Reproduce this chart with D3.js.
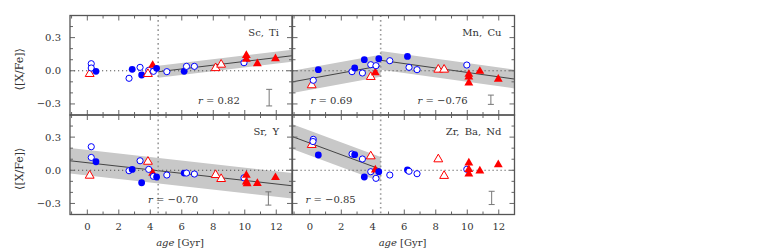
<!DOCTYPE html>
<html lang="en">
<head>
<meta charset="UTF-8">
<title>Abundance trends with age</title>
<style>
  body { margin: 0; background: #fff; }
  svg text { font-family: "DejaVu Serif", serif; font-size: 10px; fill: #333; }
  .frame { fill: none; stroke: #555; stroke-width: 1.3; }
  .tick { stroke: #666; stroke-width: 1; }
</style>
</head>
<body>
<svg id="chart" width="764" height="250"></svg>
<script src="https://d3js.org/d3.v7.min.js"></script>
<script>
// [age, <[X/Fe]>, kind]  kind: fc filled circle, oc open circle, ft filled triangle, ot open triangle
const scTi = [
  [0.15,-0.023,'ot'],[0.25,0.064,'oc'],[0.25,0.025,'oc'],[0.55,-0.005,'fc'],
  [2.65,-0.068,'oc'],[2.85,0.013,'fc'],[3.35,0.031,'oc'],[3.45,-0.038,'fc'],
  [3.9,0.004,'oc'],[3.85,-0.023,'ot'],[4.15,0.055,'ft'],[4.2,-0.005,'oc'],
  [4.4,0.022,'fc'],[5.05,-0.008,'oc'],[6.15,-0.005,'fc'],[6.3,0.04,'oc'],
  [6.8,0.04,'oc'],[8.15,0.03,'ot'],[8.5,0.061,'ot'],[9.95,0.073,'oc'],
  [10.1,0.145,'ft'],[10.1,0.11,'ft'],[10.8,0.07,'ft'],[11.95,0.115,'ft']
];
const mnCu = [
  [0.12,-0.125,'ot'],[0.22,-0.086,'oc'],[0.54,0.01,'fc'],[2.68,-0.008,'oc'],
  [2.85,0.025,'fc'],[3.34,-0.02,'oc'],[3.46,0.1,'fc'],[3.87,0.055,'oc'],
  [3.87,-0.05,'ot'],[4.16,-0.011,'ft'],[4.2,0.046,'oc'],[4.38,0.109,'fc'],
  [5.08,0.091,'oc'],[6.2,0.13,'fc'],[6.3,0.031,'oc'],[6.81,0.01,'oc'],
  [8.16,0.016,'ot'],[8.53,0.016,'ot'],[9.97,0.052,'oc'],[10.1,-0.026,'ft'],
  [10.1,-0.05,'ft'],[10.1,-0.105,'ft'],[10.8,0.001,'ft'],[11.97,-0.071,'ft']
];
const srY = [
  [0.15,-0.043,'ot'],[0.25,0.213,'oc'],[0.25,0.116,'oc'],[0.55,0.077,'fc'],
  [2.65,-0.004,'oc'],[2.85,0.008,'fc'],[3.35,0.086,'oc'],[3.45,-0.113,'fc'],
  [3.9,0.008,'oc'],[3.85,0.083,'ot'],[4.15,-0.02,'ft'],[4.2,-0.055,'oc'],
  [4.4,-0.061,'fc'],[5.05,-0.043,'oc'],[6.15,-0.025,'fc'],[6.3,-0.025,'oc'],
  [6.8,-0.034,'oc'],[8.15,-0.037,'ot'],[8.5,-0.073,'ot'],[9.95,-0.068,'oc'],
  [10.1,-0.04,'ft'],[10.1,-0.1,'ft'],[10.15,-0.115,'ft'],[10.8,-0.113,'ft'],
  [11.95,-0.06,'ft']
];
const zrBaNd = [
  [0.12,0.235,'ot'],[0.22,0.28,'oc'],[0.2,0.26,'oc'],[0.54,0.138,'fc'],
  [2.68,0.147,'oc'],[2.85,0.141,'fc'],[3.34,0.102,'oc'],[3.46,-0.061,'fc'],
  [3.87,-0.013,'oc'],[3.87,0.132,'ot'],[4.16,0.009,'ft'],[4.2,-0.073,'oc'],
  [4.38,-0.013,'fc'],[5.08,-0.043,'oc'],[6.2,0.003,'fc'],[6.3,-0.009,'oc'],
  [6.81,-0.031,'oc'],[8.16,0.105,'ot'],[8.53,-0.045,'ot'],[9.97,0.009,'oc'],
  [10.1,0.072,'ft'],[10.1,0.012,'ft'],[10.1,-0.027,'ft'],[10.8,0.0,'ft'],
  [11.97,0.057,'ft']
];

// linear fits: [age from, age to, value at from, value at to, half-width of band]
const scTiFit = [[4.5, 13, -0.009, 0.136, 0.055]];
const mnCuFit = [[-1.1, 4.5, -0.1, 0.045, 0.1], [4.5, 13, 0.095, -0.075, 0.085]];
const srYFit = [[-1.1, 13, 0.086, -0.14, 0.115]];
const zrBaNdFit = [[-1.1, 4.5, 0.304, 0.009, 0.112]];

// correlation coefficients shown in each panel
const scTiR = ['0.82'];
const mnCuR = ['0.69', '\u22120.76'];
const srYR = ['\u22120.70'];
const zrBaNdR = ['\u22120.85'];

// typical error bar: [age, centre, half-length]
const scTiErr = [11.55, -0.243, 0.075];
const mnCuErr = [11.5, -0.262, 0.042];
const srYErr = [11.5, -0.255, 0.06];
const zrBaNdErr = [11.55, -0.25, 0.06];

const panelNames = ['Sc, Ti', 'Mn, Cu', 'Sr, Y', 'Zr, Ba, Nd'];
const xTicks = [0, 2, 4, 6, 8, 10, 12];
const yTicks = [-0.3, 0.0, 0.3];
const splitAge = 4.5;

// layout
const pw = 222, ph = 99.5;
const panels = [
  { name: panelNames[0], pts: scTi, fit: scTiFit, r: scTiR, err: scTiErr, x0: 70, y0: 15.5, rx: [128] },
  { name: panelNames[1], pts: mnCu, fit: mnCuFit, r: mnCuR, err: mnCuErr, x0: 292.5, y0: 15.5, rx: [18, 125] },
  { name: panelNames[2], pts: srY, fit: srYFit, r: srYR, err: srYErr, x0: 70, y0: 115, rx: [78] },
  { name: panelNames[3], pts: zrBaNd, fit: zrBaNdFit, r: zrBaNdR, err: zrBaNdErr, x0: 292.5, y0: 115, rx: [13] }
];

const svg = d3.select('#chart');
const x = d3.scaleLinear().domain([-1.1, 13]).range([0, pw]);
const y = d3.scaleLinear().domain([-0.4, 0.5]).range([ph, 0]);

panels.forEach((p, pi) => {
  const g = svg.append('g').attr('transform', `translate(${p.x0},${p.y0})`);

  // fit bands and lines
  p.fit.forEach(f => {
    const band = [[f[0], f[2]], [f[1], f[3]]];
    g.append('path')
      .attr('d', d3.area().x(d => x(d[0])).y0(d => y(d[1] - f[4])).y1(d => y(d[1] + f[4]))(band))
      .attr('fill', '#c8c8c8');
    g.append('path')
      .attr('d', d3.line().x(d => x(d[0])).y(d => y(d[1]))(band))
      .attr('stroke', '#222').attr('stroke-width', 0.8).attr('fill', 'none');
  });

  // zero line and age split
  g.append('line')
    .attr('x1', 0).attr('x2', pw).attr('y1', y(0)).attr('y2', y(0))
    .attr('stroke', '#555').attr('stroke-width', 1).attr('stroke-dasharray', '1.2,2.8');
  g.append('line')
    .attr('x1', x(splitAge)).attr('x2', x(splitAge)).attr('y1', 0).attr('y2', ph)
    .attr('stroke', '#999').attr('stroke-width', 1.6).attr('stroke-dasharray', '1.6,3');

  // error bar
  const e = p.err;
  const eg = g.append('g').attr('stroke', '#777').attr('stroke-width', 1);
  eg.append('line').attr('x1', x(e[0])).attr('x2', x(e[0])).attr('y1', y(e[1] - e[2])).attr('y2', y(e[1] + e[2]));
  [e[1] - e[2], e[1] + e[2]].forEach(v => {
    eg.append('line').attr('x1', x(e[0]) - 3).attr('x2', x(e[0]) + 3).attr('y1', y(v)).attr('y2', y(v));
  });

  // points
  const tri = d3.symbol().type(d3.symbolTriangle).size(34);
  p.pts.forEach(d => {
    const cx = x(d[0]), cy = y(d[1]);
    const filled = d[2][0] === 'f';
    const col = d[2][1] === 'c' ? '#0000ff' : '#ff0000';
    if (d[2][1] === 'c') {
      g.append('circle').attr('cx', cx).attr('cy', cy).attr('r', filled ? 3.4 : 3.1)
        .attr('fill', filled ? col : '#fff').attr('stroke', col).attr('stroke-width', filled ? 0 : 1);
    } else {
      g.append('path').attr('d', tri).attr('transform', `translate(${cx},${cy + 0.6})`)
        .attr('fill', filled ? col : '#fff').attr('stroke', col).attr('stroke-width', filled ? 0 : 1);
    }
  });

  // frame and ticks on all sides
  const tg = g.append('g');
  d3.range(-1, 14).forEach(a => {
    if (x(a) < 0.5 || x(a) > pw - 0.5) return;
    const len = a % 2 === 0 ? 5 : 3;
    tg.append('line').attr('class', 'tick').attr('x1', x(a)).attr('x2', x(a)).attr('y1', ph).attr('y2', ph - len);
    tg.append('line').attr('class', 'tick').attr('x1', x(a)).attr('x2', x(a)).attr('y1', 0).attr('y2', len);
  });
  d3.range(-3, 5).forEach(k => {
    const v = k / 10;
    const len = k % 3 === 0 ? 5 : 3;
    tg.append('line').attr('class', 'tick').attr('x1', 0).attr('x2', len).attr('y1', y(v)).attr('y2', y(v));
    tg.append('line').attr('class', 'tick').attr('x1', pw).attr('x2', pw - len).attr('y1', y(v)).attr('y2', y(v));
  });
  g.append('rect').attr('class', 'frame').attr('x', 0).attr('y', 0).attr('width', pw).attr('height', ph);

  // texts
  g.append('text').attr('x', 209).attr('y', 20).attr('text-anchor', 'end')
    .style('word-spacing', '2px').text(p.name);
  p.r.forEach((rv, i) => {
    const t = g.append('text').attr('x', p.rx[i]).attr('y', 88);
    t.append('tspan').style('font-style', 'italic').text('r');
    t.append('tspan').text(' = ' + rv);
  });

  // tick labels on outer sides
  if (pi % 2 === 0) {
    yTicks.forEach(v => {
      g.append('text').attr('x', -9).attr('y', y(v) + 3.5).attr('text-anchor', 'end')
        .text(v === 0 ? '0.0' : (v < 0 ? '\u2212' : '') + Math.abs(v).toFixed(1));
    });
    g.append('text')
      .attr('transform', `translate(-47,${ph / 2 + 4}) rotate(-90)`)
      .attr('text-anchor', 'middle').style('font-size', '11px').text('\u27e8[X/Fe]\u27e9');
  }
  if (pi >= 2) {
    xTicks.forEach(a => {
      g.append('text').attr('x', x(a)).attr('y', ph + 15).attr('text-anchor', 'middle').text(a);
    });
    const lab = g.append('text').attr('x', pw / 2 - 1).attr('y', ph + 31).attr('text-anchor', 'middle');
    lab.append('tspan').style('font-style', 'italic').text('age');
    lab.append('tspan').text(' [Gyr]');
  }
});
</script>
</body>
</html>
